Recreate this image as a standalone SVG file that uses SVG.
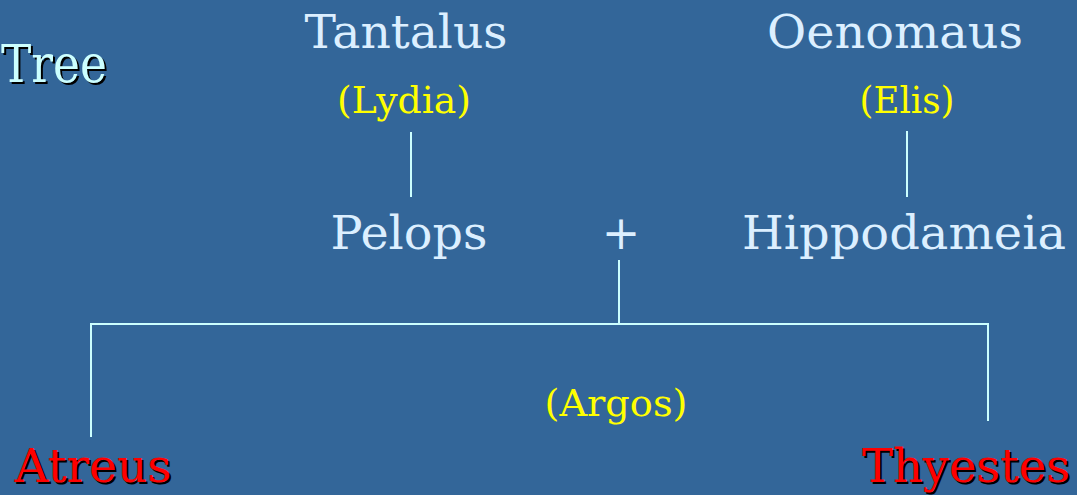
<svg xmlns="http://www.w3.org/2000/svg" width="1077" height="495" viewBox="0 0 1077 495">
<defs>
<style>
text{font-family:"DejaVu Serif","Liberation Serif",serif;text-anchor:middle}
.name{fill:#dcefff;font-size:46px}
.place{fill:#ffff00;font-size:37px}
.red{fill:#ff0000;font-size:46px}
.title{fill:#ccffff;font-size:52px;text-anchor:start}
.sh{fill:#000000}
.ln{stroke:#ccffff;stroke-width:2;fill:none}
</style>
</defs>
<rect width="1077" height="495" fill="#336699"/>
<g id="title">
<text class="title sh" x="3" y="84" textLength="106" lengthAdjust="spacingAndGlyphs">Tree</text>
<text class="title" x="1" y="82" textLength="106" lengthAdjust="spacingAndGlyphs">Tree</text>
</g>
<g id="connectors">
<line class="ln" x1="411" y1="132" x2="411" y2="197"/>
<line class="ln" x1="907" y1="131" x2="907" y2="197"/>
<line class="ln" x1="619" y1="260" x2="619" y2="324"/>
<polyline class="ln" points="91,437 91,324 988,324 988,421"/>
</g>
<g id="tantalus"><text class="name" x="406" y="48" textLength="203" lengthAdjust="spacingAndGlyphs">Tantalus</text></g>
<g id="lydia"><text class="place" x="404" y="113" textLength="134" lengthAdjust="spacingAndGlyphs">(Lydia)</text></g>
<g id="oenomaus"><text class="name" x="895" y="48" textLength="256" lengthAdjust="spacingAndGlyphs">Oenomaus</text></g>
<g id="elis"><text class="place" x="907" y="113" textLength="95" lengthAdjust="spacingAndGlyphs">(Elis)</text></g>
<g id="pelops"><text class="name" x="409" y="249" textLength="157" lengthAdjust="spacingAndGlyphs">Pelops</text></g>
<g id="plus"><text class="name" x="621" y="249">+</text></g>
<g id="hippodameia"><text class="name" x="904" y="249" textLength="324" lengthAdjust="spacingAndGlyphs">Hippodameia</text></g>
<g id="argos"><text class="place" x="616" y="416" textLength="143" lengthAdjust="spacingAndGlyphs">(Argos)</text></g>
<g id="atreus">
<text class="red sh" x="95" y="484" textLength="157" lengthAdjust="spacingAndGlyphs">Atreus</text>
<text class="red" x="93" y="482" textLength="157" lengthAdjust="spacingAndGlyphs">Atreus</text>
</g>
<g id="thyestes">
<text class="red sh" x="968" y="484" textLength="208" lengthAdjust="spacingAndGlyphs">Thyestes</text>
<text class="red" x="966" y="482" textLength="208" lengthAdjust="spacingAndGlyphs">Thyestes</text>
</g>
</svg>
